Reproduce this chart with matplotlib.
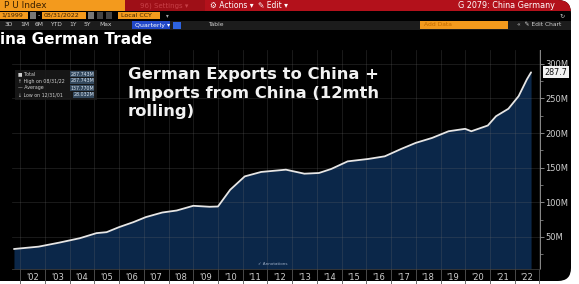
import matplotlib
matplotlib.use("Agg")
import matplotlib.pyplot as plt
import matplotlib.dates as mdates
from matplotlib.patches import FancyBboxPatch, Rectangle
from matplotlib.ticker import FixedLocator, FuncFormatter
import pandas as pd
import numpy as np

# ---------------- data ----------------
dates = ["2001-09-30", "2002-09-30", "2003-07-31", "2004-05-31", "2005-01-31",
         "2005-06-30", "2005-12-31", "2006-07-31", "2007-01-31", "2007-09-30",
         "2008-04-30", "2008-12-31", "2009-08-31", "2009-12-31", "2010-06-30",
         "2011-01-31", "2011-09-30", "2012-09-30", "2013-06-30", "2014-01-31",
         "2014-07-31", "2015-03-31", "2016-01-31", "2016-09-30", "2017-05-31",
         "2017-12-31", "2018-08-31", "2019-04-30", "2019-12-31", "2020-03-31",
         "2020-11-30", "2021-03-31", "2021-09-30", "2022-02-28", "2022-06-30",
         "2022-08-31"]
total_m = [32.5, 35.9, 41.7, 48.1, 55.4,
           56.8, 64.1, 71.3, 78.6, 85.2,
           88.1, 94.9, 93.5, 93.9, 118.1,
           137.4, 143.8, 147.1, 141.3, 142.3,
           148.1, 159.1, 162.6, 166.4, 177.1,
           185.8, 193.0, 202.6, 206.1, 202.6,
           210.9, 224.3, 235.1, 253.3, 277.5,
           287.7]
y_ticks = [50, 100, 150, 200, 250, 300]
year_labels = ["'02", "'03", "'04", "'05", "'06", "'07", "'08", "'09", "'10", "'11",
               "'12", "'13", "'14", "'15", "'16", "'17", "'18", "'19", "'20", "'21", "'22"]
legend_rows = [("\u25a0 Total", "287.743M"),
               ("\u2191 High on 08/31/22", "287.743M"),
               ("\u2014 Average", "137.770M"),
               ("\u2193 Low on 12/31/01", "28.032M")]
last_label = "287.7"
title_text = "ina German Trade"
annotation = "German Exports to China +\nImports from China (12mth\nrolling)"

# ---------------- figure ----------------
W, H = 579, 284
fig = plt.figure(figsize=(W / 100, H / 100), dpi=100, facecolor="white")
bg = fig.add_axes([0, 0, 1, 1])
bg.set_xlim(0, W)
bg.set_ylim(H, 0)
bg.axis("off")

panel = FancyBboxPatch((-20, 0), 591, 281, boxstyle="round,pad=0,rounding_size=13",
                       facecolor="black", edgecolor="none", zorder=0)
bg.add_patch(panel)

def rect(x, y, w, h, color, z=1):
    r = Rectangle((x, y), w, h, facecolor=color, edgecolor="none", zorder=z)
    bg.add_patch(r)
    r.set_clip_path(panel)
    return r

# row 1: orange / red bar
rect(-5, 0, 130, 10.5, "#f39a1d")
rect(125, 0, 460, 10.5, "#b3111b")
rect(125, 0, 80, 10.5, "#9e0f17", z=1.1)
bg.text(4, 5.5, "P U Index", color="#3a2000", fontsize=6.5, va="center", ha="left", zorder=3)
bg.text(140, 5.5, "96) Settings \u25be", color="#c84048", fontsize=5, va="center", zorder=3)
bg.text(210, 5.5, "\u2699 Actions \u25be", color="white", fontsize=5.5, va="center", zorder=3)
bg.text(258, 5.5, "\u270e Edit \u25be", color="white", fontsize=5.5, va="center", zorder=3)
bg.text(555, 5.5, "G 2079: China Germany", color="white", fontsize=5.8, va="center",
        ha="right", zorder=3)

# row 2: date boxes
rect(-5, 11.5, 33, 7.5, "#f39a1d")
bg.text(1, 15.3, "1/1999", color="#3a2000", fontsize=4.5, va="center", zorder=3)
rect(30, 12, 6, 6.5, "#777777")
bg.text(37.5, 15.3, "-", color="white", fontsize=4.5, va="center", zorder=3)
rect(42, 11.5, 44, 7.5, "#f39a1d")
bg.text(44, 15.3, "08/31/2022", color="#3a2000", fontsize=4.5, va="center", zorder=3)
rect(88, 12, 6, 6.5, "#777777")
rect(97, 12, 6, 6.5, "#444444")
rect(106, 12, 6, 6.5, "#444444")
rect(118, 11.5, 42, 7.5, "#f39a1d")
bg.text(121, 15.3, "Local CCY", color="#3a2000", fontsize=4.5, va="center", zorder=3)
bg.text(166, 15.3, "\u25be", color="#aaaaaa", fontsize=4, va="center", zorder=3)
bg.text(560, 15.3, "\u21bb", color="#bbbbbb", fontsize=4.5, va="center", zorder=3)

# row 3: toolbar
rect(-5, 20.5, 585, 9, "#1c1c1c")
tx = 5
for lab in ["3D", "1M", "6M", "YTD", "1Y", "5Y", "Max"]:
    bg.text(tx, 25, lab, color="#cfcfcf", fontsize=4.3, va="center", zorder=3)
    tx += 15 if len(lab) < 3 else 19
rect(132, 21.2, 38, 7.6, "#2248c8")
bg.text(135, 25, "Quarterly \u25be", color="white", fontsize=4.5, va="center", zorder=3)
rect(173, 21.5, 8, 7, "#2e64e0")
bg.text(208, 25, "Table", color="#cfcfcf", fontsize=4.3, va="center", zorder=3)
rect(420, 21.2, 88, 7.6, "#f39a1d")
bg.text(424, 25, "Add Data", color="#c06a00", fontsize=4.3, va="center", zorder=3)
bg.text(517, 25, "\u00ab  \u270e Edit Chart", color="#cfcfcf", fontsize=4.3, va="center", zorder=3)

# title
bg.text(0.5, 40, title_text, color="white", fontsize=11, fontweight="bold",
        va="center", ha="left", zorder=3)

# ---------------- chart axes ----------------
x0, x1, ytop, ybot = 12, 540, 50, 269
ax = fig.add_axes([x0 / W, (H - ybot) / H, (x1 - x0) / W, (ybot - ytop) / H])
ax.set_facecolor("black")

d = pd.to_datetime(dates)
v = np.array(total_m)
ymin, ymax = 3.6, 320
ax.fill_between(d, v, ymin, color="#0b2749", zorder=1, linewidth=0)
ax.plot(d, v, color="#e6e6e6", lw=1.3, zorder=3, solid_capstyle="round")

ax.set_xlim(pd.Timestamp("2001-09-01"), pd.Timestamp("2023-01-10"))
ax.set_ylim(ymin, ymax)

# x ticks: separators at year boundaries, labels mid-year
ax.xaxis.set_major_locator(mdates.YearLocator(1, month=1, day=1))
ax.xaxis.set_major_formatter(plt.NullFormatter())
label_pos = [mdates.date2num(pd.Timestamp(f"{2002 + i}-07-01")) for i in range(len(year_labels))]
ax.xaxis.set_minor_locator(FixedLocator(label_pos))
ax.xaxis.set_minor_formatter(FuncFormatter(
    lambda x, p: year_labels[p] if p is not None and p < len(year_labels) else ""))
ax.tick_params(axis="x", which="major", length=11, width=0.6, color="#555555", direction="out")
ax.tick_params(axis="x", which="minor", length=0, labelsize=6, labelcolor="#cfcfcf", pad=3)

# y axis on the right
ax.yaxis.tick_right()
ax.set_yticks(y_ticks)
ax.set_yticklabels([f"{t}M" for t in y_ticks])
ax.yaxis.set_minor_locator(FixedLocator([25, 75, 125, 175, 225, 275]))
ax.tick_params(axis="y", which="major", length=3, width=0.6, color="#9a9a9a",
               labelsize=6, labelcolor="#cfcfcf", pad=1)
ax.tick_params(axis="y", which="minor", length=2, width=0.5, color="#9a9a9a")

for s in ["top", "left"]:
    ax.spines[s].set_visible(False)
ax.spines["right"].set_color("#8a8a8a")
ax.spines["right"].set_linewidth(0.7)
ax.spines["bottom"].set_color("#3a3a3a")
ax.spines["bottom"].set_linewidth(0.6)

ax.grid(True, which="major", color="#6a6a6a", alpha=0.35, lw=0.5)
ax.set_axisbelow(False)
for gl in ax.get_xgridlines() + ax.get_ygridlines():
    gl.set_zorder(2.5)

# last value label
ax.annotate(last_label, xy=(1.0, v[-1]), xycoords=("axes fraction", "data"),
            xytext=(3, 0), textcoords="offset points", fontsize=5.8, color="#111111",
            va="center", ha="left", annotation_clip=False,
            bbox=dict(boxstyle="square,pad=0.2", facecolor="#f2f2f2", edgecolor="none"))

# ---------------- overlays (on top of the chart) ----------------
ov = fig.add_axes([0, 0, 1, 1])
ov.set_xlim(0, W)
ov.set_ylim(H, 0)
ov.axis("off")
ov.patch.set_alpha(0)

lb = Rectangle((15, 70), 82, 30, facecolor="#1b1b1b", edgecolor="none", alpha=0.85, zorder=5)
ov.add_patch(lb)
for i, (name, val) in enumerate(legend_rows):
    yy = 74 + i * 7
    ov.text(18, yy, name, color="#cfcfcf", fontsize=3.4, va="center", zorder=6)
    ov.text(94, yy, val, color="#d8e4f0", fontsize=3.4, va="center", ha="right", zorder=6,
            bbox=dict(boxstyle="square,pad=0.1", facecolor="#34495e", edgecolor="none"))

ov.text(128, 67, annotation, color="#f2f2f2", fontsize=11.8, fontweight="bold",
        va="top", ha="left", linespacing=1.3, zorder=6)

ov.text(258, 264, "\u2713 Annotations", color="#9fb0c8", fontsize=3, va="center", zorder=6)

fig.savefig("out.png", dpi=100, facecolor="white")
